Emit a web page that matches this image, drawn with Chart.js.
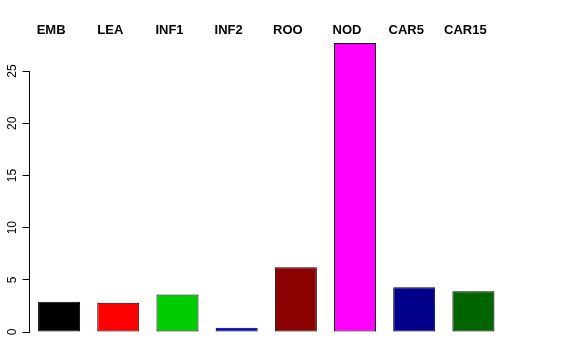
<!DOCTYPE html>
<html>
<head>
<meta charset="utf-8">
<script src="https://cdn.jsdelivr.net/npm/chart.js@4/dist/chart.umd.min.js"></script>
<style>
  html, body { margin: 0; padding: 0; background: #fff; }
  #wrap { width: 576px; height: 360px; }
</style>
</head>
<body>
<div id="wrap"><canvas id="barChart"></canvas></div>
<script>
// data
var categories = ['EMB', 'LEA', 'INF1', 'INF2', 'ROO', 'NOD', 'CAR5', 'CAR15'];
var values = [2.9, 2.8, 3.6, 0.4, 6.2, 27.7, 4.3, 3.9];
var barColors = ['#000000', '#FF0000', '#00CD00', '#0000FF', '#8B0000', '#FF00FF', '#00008B', '#006400'];
var yTicks = [0, 5, 10, 15, 20, 25];

// R-style axis line: only from the first to the last tick
var axisLine = {
    id: 'axisLine',
    afterDraw: function (chart) {
        var y = chart.scales.y;
        var ctx = chart.ctx;
        var x = Math.round(chart.chartArea.left) - 0.5;
        ctx.save();
        ctx.strokeStyle = '#000';
        ctx.lineWidth = 1;
        ctx.beginPath();
        ctx.moveTo(x, y.getPixelForValue(yTicks[0]));
        ctx.lineTo(x, y.getPixelForValue(yTicks[yTicks.length - 1]));
        ctx.stroke();
        ctx.restore();
    }
};

document.addEventListener('DOMContentLoaded', function () {
    var ctx = document.getElementById('barChart').getContext('2d');
    new Chart(ctx, {
        type: 'bar',
        data: {
            labels: categories,
            datasets: [{
                data: values,
                backgroundColor: barColors,
                borderColor: '#000',
                borderWidth: 1,
                borderSkipped: false,
                barPercentage: 0.71,
                categoryPercentage: 1.0
            }]
        },
        options: {
            responsive: true,
            maintainAspectRatio: false,
            animation: false,
            layout: { padding: { left: 0, top: 21, right: 73, bottom: 28 } },
            plugins: {
                legend: { display: false },
                tooltip: { enabled: false }
            },
            scales: {
                x: {
                    position: 'top',
                    grid: { display: false, drawTicks: false },
                    border: { display: false },
                    ticks: {
                        color: '#000',
                        font: { family: 'Liberation Sans, Arial, sans-serif', size: 13, weight: 'bold' },
                        labelOffset: -8,
                        padding: 1.6,
                        maxRotation: 0,
                        minRotation: 0
                    }
                },
                y: {
                    min: 0,
                    max: 28,
                    afterBuildTicks: function (scale) {
                        scale.ticks = yTicks.map(function (v) { return { value: v }; });
                    },
                    afterFit: function (scale) {
                        scale.width = 29.5;
                    },
                    grid: {
                        drawOnChartArea: false,
                        drawTicks: true,
                        tickLength: 7,
                        color: '#000'
                    },
                    border: { display: false },
                    ticks: {
                        color: '#000',
                        font: { family: 'Liberation Sans, Arial, sans-serif', size: 12 },
                        minRotation: 90,
                        maxRotation: 90,
                        crossAlign: 'center',
                        padding: 3
                    }
                }
            }
        },
        plugins: [axisLine]
    });
});
</script>
</body>
</html>
